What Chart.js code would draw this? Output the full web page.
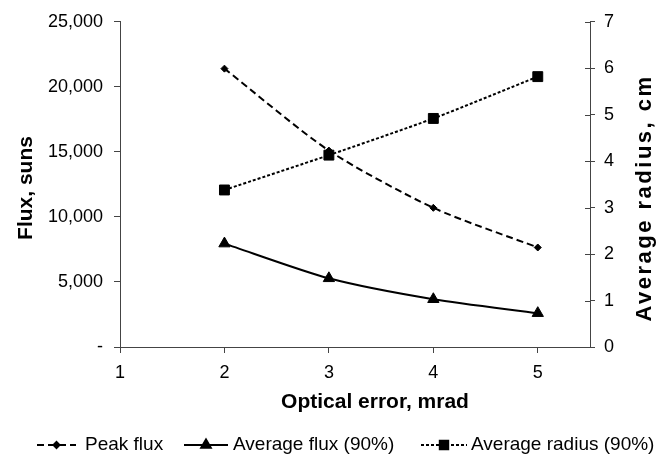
<!DOCTYPE html>
<html>
<head>
<meta charset="utf-8">
<script src="https://cdn.jsdelivr.net/npm/chart.js@4/dist/chart.umd.min.js"></script>
<style>
html,body{margin:0;padding:0;background:#fff;}
#wrap{width:662px;height:459px;position:relative;}
</style>
</head>
<body>
<div id="wrap"><canvas id="c" width="662" height="459"></canvas></div>
<script>
// ---- data ----
const opticalError = [2, 3, 4, 5];
const peakFlux = [21400, 15100, 10700, 7650];
const averageFlux = [7950, 5280, 3670, 2600];
const averageRadius = [3.38, 4.13, 4.92, 5.82];
const xTicks = [1, 2, 3, 4, 5];
const seriesNames = ['Peak flux', 'Average flux (90%)', 'Average radius (90%)'];
const titles = { x: 'Optical error, mrad', y: 'Flux, suns', y1: 'Average radius, cm' };

const FONT = '"Liberation Sans", Arial, sans-serif';
const AX = '#444';

const pts = (ys) => opticalError.map((x, i) => ({ x: x, y: ys[i] }));

const styles = [
  { pointStyle: 'rectRot', radius: 3.5, dash: [7, 4] },
  { pointStyle: 'triangle', radius: 6.5, dash: [] },
  { pointStyle: 'rect', radius: 7, dash: [3, 2] }
];

function ds(label, data, st, axis) {
  return {
    label: label, data: data, yAxisID: axis,
    borderColor: '#000', backgroundColor: '#000', borderWidth: 2,
    borderDash: st.dash, tension: 0.25,
    pointStyle: st.pointStyle, pointRadius: st.radius, pointHoverRadius: st.radius,
    pointBackgroundColor: '#000', pointBorderColor: '#000', pointBorderWidth: 1
  };
}

const legendPos = [
  { line: 37, lineEnd: 76, text: 85 },
  { line: 184, lineEnd: 228, text: 233 },
  { line: 421, lineEnd: 467, text: 471 }
];

const overlay = {
  id: 'overlay',
  afterDraw(chart) {
    const ctx = chart.ctx;
    const y1 = chart.scales.y1;
    ctx.save();
    // inner halves of right-axis ticks
    ctx.strokeStyle = AX; ctx.lineWidth = 1;
    y1.ticks.forEach((t) => {
      const py = Math.round(y1.getPixelForValue(t.value)) + 0.5;
      ctx.beginPath(); ctx.moveTo(y1.left - 5, py); ctx.lineTo(y1.left, py); ctx.stroke();
    });
    // axis titles
    ctx.fillStyle = '#000';
    ctx.font = 'bold 21px ' + FONT;
    ctx.textAlign = 'center'; ctx.textBaseline = 'middle';
    ctx.fillText(titles.x, 375, 402);
    ctx.save(); ctx.translate(26, 188); ctx.rotate(-Math.PI / 2);
    ctx.fillText(titles.y, 0, 0); ctx.restore();
    ctx.save(); ctx.translate(645, 198); ctx.rotate(-Math.PI / 2);
    ctx.font = 'bold 22px ' + FONT;
    ctx.letterSpacing = '2.5px';
    ctx.fillText(titles.y1, 0, 0); ctx.restore();
    // legend
    ctx.font = '19px ' + FONT;
    ctx.textAlign = 'left';
    const ly = 445;
    seriesNames.forEach((n, i) => {
      const st = styles[i];
      const p = legendPos[i];
      ctx.save();
      ctx.strokeStyle = '#000'; ctx.lineWidth = 2; ctx.setLineDash(st.dash);
      ctx.beginPath(); ctx.moveTo(p.line, ly); ctx.lineTo(p.lineEnd, ly); ctx.stroke();
      ctx.setLineDash([]);
      ctx.fillStyle = '#000';
      Chart.helpers.drawPoint(ctx, { pointStyle: st.pointStyle, radius: st.radius * 0.85, rotation: 0, borderWidth: 1 }, (p.line + p.lineEnd) / 2, ly);
      ctx.restore();
      ctx.fillStyle = '#000';
      ctx.fillText(n, p.text, ly);
    });
    ctx.restore();
  }
};

new Chart(document.getElementById('c'), {
  type: 'line',
  data: {
    datasets: [
      ds(seriesNames[0], pts(peakFlux), styles[0], 'y'),
      ds(seriesNames[1], pts(averageFlux), styles[1], 'y'),
      ds(seriesNames[2], pts(averageRadius), styles[2], 'y1')
    ]
  },
  options: {
    responsive: false, animation: false, devicePixelRatio: 1,
    layout: { padding: { top: 20, left: 0, right: 0, bottom: 0 } },
    plugins: { legend: { display: false }, tooltip: { enabled: false } },
    scales: {
      x: {
        type: 'linear', min: 1, max: 5.5,
        afterBuildTicks: (s) => { s.ticks = xTicks.map((v) => ({ value: v })); },
        afterFit: (s) => { s.height = 112; },
        grid: { drawOnChartArea: false, drawTicks: true, tickLength: 6, color: AX },
        border: { color: AX, width: 1 },
        ticks: { color: '#000', font: { family: FONT, size: 18 }, padding: 9, maxRotation: 0 }
      },
      y: {
        position: 'left', min: 0, max: 25000,
        afterFit: (s) => { s.width = 120; },
        grid: { drawOnChartArea: false, drawTicks: true, tickLength: 6, color: AX },
        border: { color: AX, width: 1 },
        ticks: {
          stepSize: 5000, color: '#000', font: { family: FONT, size: 18 }, padding: 11,
          callback: (v) => v === 0 ? '-' : v.toLocaleString('en-US')
        }
      },
      y1: {
        position: 'right', min: 0, max: 7,
        afterFit: (s) => { s.width = 72; },
        grid: { drawOnChartArea: false, drawTicks: true, tickLength: 5, color: AX },
        border: { color: AX, width: 1 },
        ticks: { stepSize: 1, color: '#000', font: { family: FONT, size: 18 }, padding: 9 }
      }
    }
  },
  plugins: [overlay]
});
</script>
</body>
</html>
